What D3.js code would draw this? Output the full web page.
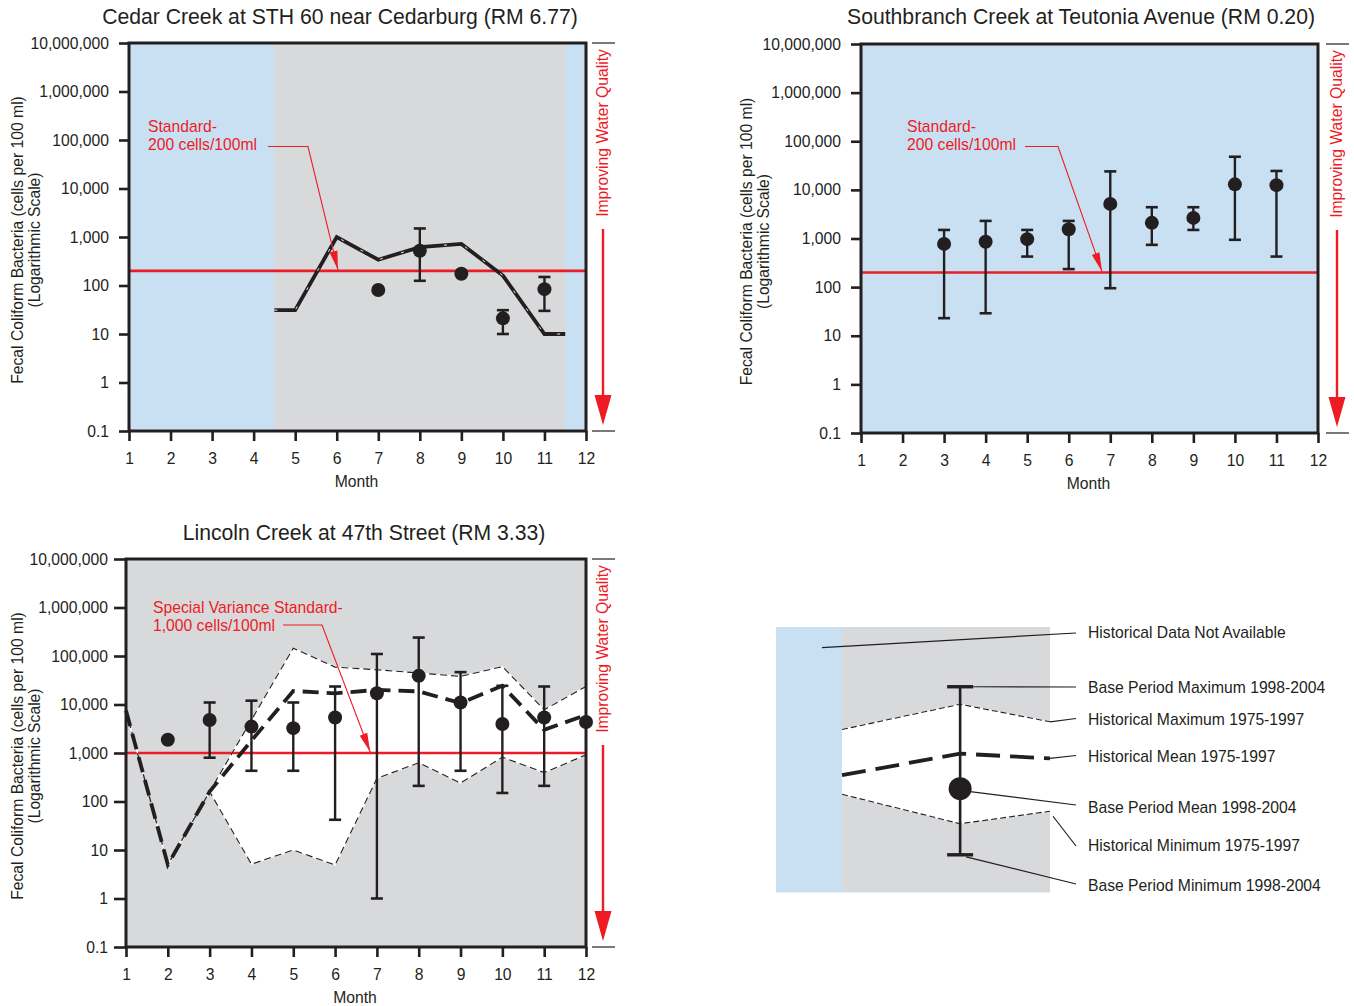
<!DOCTYPE html>
<html>
<head>
<meta charset="utf-8">
<script src="https://cdn.jsdelivr.net/npm/d3@7"></script>
<style>
  body { margin: 0; background: #ffffff; }
  svg { display: block; font-family: "Liberation Sans", Arial, Helvetica, sans-serif; }
</style>
</head>
<body>
<svg id="chart" width="1354" height="1006"></svg>
<script>
// ---------- shared axis values ----------
const months = [1, 2, 3, 4, 5, 6, 7, 8, 9, 10, 11, 12];
const yTickValues = [0.1, 1, 10, 100, 1000, 10000, 100000, 1000000, 10000000];

// ---------- Cedar Creek at STH 60 near Cedarburg ----------
const cedarHistMonths = [4.5, 5, 6, 7, 8, 9, 10, 11, 11.5];
const cedarHistMean   = [31, 31, 1000, 340, 620, 720, 160, 10, 10];
const cedarHistMax    = [31, 31, 1000, 340, 620, 720, 160, 10, 10];
const cedarHistMin    = [31, 31, 1000, 340, 620, 720, 160, 10, 10];
const cedarBaseMonths = [7, 8, 9, 10, 11];
const cedarBaseMean   = [81, 520, 175, 21, 84];
const cedarBaseMax    = [null, 1500, null, 31, 150];
const cedarBaseMin    = [null, 125, null, 10, 30];
const cedarHistBand   = [4.5, 11.5];
const cedarStandard   = 200;

// ---------- Southbranch Creek at Teutonia Avenue ----------
const southBaseMonths = [3, 4, 5, 6, 7, 8, 9, 10, 11];
const southBaseMean   = [775, 860, 970, 1550, 5150, 2100, 2650, 13000, 12500];
const southBaseMax    = [1500, 2300, 1500, 2300, 24000, 4400, 4400, 48000, 24500];
const southBaseMin    = [23, 29, 425, 235, 95, 740, 1500, 940, 425];
const southStandard   = 200;

// ---------- Lincoln Creek at 47th Street ----------
const lincolnHistMonths = [1, 2, 3, 4, 5, 6, 7, 8, 9, 10, 11, 12];
const lincolnHistMean   = [7500, 5, 160, 1800, 19000, 17000, 20000, 18600, 10700, 24300, 3000, 6100];
const lincolnHistMax    = [7500, 5, 160, 4800, 145000, 59000, 52000, 44600, 38000, 60500, 7800, 23500];
const lincolnHistMin    = [7500, 5, 160, 5.1, 10, 4.9, 300, 630, 240, 820, 395, 915];
const lincolnBaseMonths = [2, 3, 4, 5, 6, 7, 8, 9, 10, 11, 12];
const lincolnBaseMean   = [1870, 4800, 3500, 3250, 5400, 17000, 39000, 11000, 3950, 5400, 4350];
const lincolnBaseMax    = [null, 11000, 12000, 11000, 23500, 110000, 240000, 46500, 24300, 23500, null];
const lincolnBaseMin    = [null, 800, 430, 430, 42, 1, 210, 430, 150, 210, null];
const lincolnHistBand   = [1, 12];
const lincolnStandard   = 1000;

// ---------- key (schematic sample values) ----------
const keyRegionBreak = 0.241;
const keyX        = [0.241, 0.672, 1.0];
const keyHistMax  = [61.4, 70.9, 64.3];
const keyHistMean = [44.2, 52.3, 50.5];
const keyHistMin  = [37.0, 25.9, 30.6];
const keyBase     = { mean: 39.1, max: 77.5, min: 14.2 };
const keyLabels = [
  "Historical Data Not Available",
  "Base Period Maximum 1998-2004",
  "Historical Maximum 1975-1997",
  "Historical Mean 1975-1997",
  "Base Period Mean 1998-2004",
  "Historical Minimum 1975-1997",
  "Base Period Minimum 1998-2004"
];

// ---------- colours ----------
const BLUE = "#c9e0f3";
const GRAY = "#d8d9db";
const RED = "#ed1c24";
const INK = "#231f20";
const FS = 15.7;

const svg = d3.select("#chart");

const zip = (xs, ys) => xs.map((m, i) => ({ m, v: ys[i] }));

function redArrowHead(g, x1, y1, x2, y2, len, width) {
  const dx = x2 - x1, dy = y2 - y1;
  const L = Math.hypot(dx, dy);
  const ux = dx / L, uy = dy / L;
  const bx = x2 - ux * len, by = y2 - uy * len;
  const px = -uy * width / 2, py = ux * width / 2;
  g.append("path")
    .attr("d", `M${x2},${y2}L${bx + px},${by + py}L${bx - px},${by - py}Z`)
    .attr("fill", RED);
}

function drawPanel(p) {
  const g = svg.append("g");
  const x = d3.scaleLinear().domain([1, 12]).range([p.left, p.right]);
  const y = d3.scaleLog().domain([0.1, 1e7]).range([p.bottom, p.top]);

  // background shading
  g.append("rect").attr("x", p.left).attr("y", p.top)
    .attr("width", p.right - p.left).attr("height", p.bottom - p.top)
    .attr("fill", p.background);
  if (p.band) {
    g.append("rect").attr("x", x(p.band[0])).attr("y", p.top)
      .attr("width", x(p.band[1]) - x(p.band[0])).attr("height", p.bottom - p.top)
      .attr("fill", GRAY);
  }

  // historical range (white envelope)
  if (p.hist) {
    const maxPts = zip(p.hist.months, p.hist.max);
    const minPts = zip(p.hist.months, p.hist.min);
    const area = d3.area().x(d => x(d.m)).y0((d, i) => y(minPts[i].v)).y1(d => y(d.v));
    g.append("path").attr("d", area(maxPts)).attr("fill", "#ffffff");
  }

  // water quality standard
  g.append("line")
    .attr("x1", p.left).attr("x2", p.right)
    .attr("y1", y(p.standard)).attr("y2", y(p.standard))
    .attr("stroke", RED).attr("stroke-width", 2.6);

  // historical max / min / mean
  if (p.hist) {
    const line = d3.line().x(d => x(d.m)).y(d => y(d.v));
    if (p.hist.solid) {
      const mean = zip(p.hist.months, p.hist.mean);
      g.append("path").attr("d", line(mean)).attr("fill", "none")
        .attr("stroke", INK).attr("stroke-width", 3.8).attr("stroke-linejoin", "miter");
      g.append("path").attr("d", line(mean)).attr("fill", "none")
        .attr("stroke", "#ffffff").attr("stroke-width", 0.9)
        .attr("stroke-dasharray", "3,19");
    } else {
      [p.hist.max, p.hist.min].forEach(vals => {
        const pts = zip(p.hist.months, vals);
        g.append("path").attr("d", line(pts)).attr("fill", "none")
          .attr("stroke", "#ffffff").attr("stroke-width", 1.1);
        g.append("path").attr("d", line(pts)).attr("fill", "none")
          .attr("stroke", INK).attr("stroke-width", 1.1).attr("stroke-dasharray", "7,4");
      });
      const mean = zip(p.hist.months, p.hist.mean);
      g.append("path").attr("d", line(mean)).attr("fill", "none")
        .attr("stroke", INK).attr("stroke-width", 3.8).attr("stroke-dasharray", "16,8");
    }
  }

  // base period error bars and means
  const base = p.base.months.map((m, i) => ({
    m, mean: p.base.mean[i], max: p.base.max[i], min: p.base.min[i]
  }));
  const bars = base.filter(d => d.max != null && d.min != null);
  const cap = 6;
  g.selectAll(".stem").data(bars).join("line")
    .attr("x1", d => x(d.m)).attr("x2", d => x(d.m))
    .attr("y1", d => y(d.max)).attr("y2", d => y(d.min))
    .attr("stroke", INK).attr("stroke-width", 2.4);
  g.selectAll(".capTop").data(bars).join("line")
    .attr("x1", d => x(d.m) - cap).attr("x2", d => x(d.m) + cap)
    .attr("y1", d => y(d.max)).attr("y2", d => y(d.max))
    .attr("stroke", INK).attr("stroke-width", 2.6);
  g.selectAll(".capBot").data(bars).join("line")
    .attr("x1", d => x(d.m) - cap).attr("x2", d => x(d.m) + cap)
    .attr("y1", d => y(d.min)).attr("y2", d => y(d.min))
    .attr("stroke", INK).attr("stroke-width", 2.6);
  g.selectAll(".dot").data(base).join("circle")
    .attr("cx", d => x(d.m)).attr("cy", d => y(d.mean)).attr("r", 7)
    .attr("fill", INK);

  // standard annotation with leader arrow
  const a = p.note;
  const noteText = g.append("text").attr("x", a.x).attr("y", a.y)
    .attr("fill", RED).attr("font-size", FS);
  a.lines.forEach((t, i) => {
    noteText.append("tspan").attr("x", a.x).attr("dy", i === 0 ? 0 : 18).text(t);
  });
  const tipX = x(a.tipMonth), tipY = y(p.standard) - 1;
  g.append("polyline")
    .attr("points", `${a.lx1},${a.ly} ${a.lx2},${a.ly} ${tipX},${tipY}`)
    .attr("fill", "none").attr("stroke", RED).attr("stroke-width", 1.1);
  redArrowHead(g, a.lx2, a.ly, tipX, tipY, 19, 8);

  // frame
  g.append("rect").attr("x", p.left).attr("y", p.top)
    .attr("width", p.right - p.left).attr("height", p.bottom - p.top)
    .attr("fill", "none").attr("stroke", INK).attr("stroke-width", 3);

  // axes
  const fmtY = v => v < 1 ? String(v) : d3.format(",")(v);
  const yAxis = g.append("g").attr("transform", `translate(${p.left},0)`)
    .call(d3.axisLeft(y).tickValues(yTickValues).tickSize(p.tickLen)
      .tickPadding(p.tickPad).tickFormat(fmtY));
  const xAxis = g.append("g").attr("transform", `translate(0,${p.bottom})`)
    .call(d3.axisBottom(x).tickValues(months).tickSize(10)
      .tickPadding(12).tickFormat(d3.format("d")));
  [yAxis, xAxis].forEach(ax => {
    ax.select(".domain").remove();
    ax.selectAll(".tick line").attr("stroke", INK).attr("stroke-width", 2.6);
    ax.selectAll(".tick text").attr("fill", INK).attr("font-size", FS)
      .attr("font-family", "Liberation Sans, Arial, sans-serif");
  });

  // titles
  g.append("text").attr("x", p.titleX).attr("y", p.titleY)
    .attr("text-anchor", "middle").attr("font-size", 21.2).attr("fill", INK)
    .text(p.title);
  g.append("text").attr("x", (p.left + p.right) / 2 - 1).attr("y", p.bottom + 56)
    .attr("text-anchor", "middle").attr("font-size", FS).attr("fill", INK)
    .text("Month");
  const yMid = (p.top + p.bottom) / 2 + 3;
  g.append("text")
    .attr("transform", `translate(${p.yLabelX},${yMid}) rotate(-90)`)
    .attr("text-anchor", "middle").attr("font-size", FS).attr("fill", INK)
    .text("Fecal Coliform Bacteria (cells per 100 ml)");
  g.append("text")
    .attr("transform", `translate(${p.yLabelX + 17},${yMid}) rotate(-90)`)
    .attr("text-anchor", "middle").attr("font-size", FS).attr("fill", INK)
    .text("(Logarithmic Scale)");

  // improving water quality marker
  const mx = p.right + p.markerOffset;
  g.append("line").attr("x1", mx - 11).attr("x2", mx + 12)
    .attr("y1", p.top).attr("y2", p.top).attr("stroke", INK).attr("stroke-width", 1.2);
  g.append("line").attr("x1", mx - 11).attr("x2", mx + 12)
    .attr("y1", p.bottom).attr("y2", p.bottom).attr("stroke", INK).attr("stroke-width", 1.2);
  g.append("text")
    .attr("transform", `translate(${mx + 5},${p.top + 90}) rotate(-90)`)
    .attr("text-anchor", "middle").attr("font-size", FS).attr("fill", RED)
    .text("Improving Water Quality");
  g.append("line").attr("x1", mx).attr("x2", mx)
    .attr("y1", p.top + 186).attr("y2", p.bottom - 30)
    .attr("stroke", RED).attr("stroke-width", 2.4);
  redArrowHead(g, mx, p.top + 186, mx, p.bottom - 6, 30, 17);
}

drawPanel({
  title: "Cedar Creek at STH 60 near Cedarburg (RM 6.77)", titleX: 340, titleY: 24,
  left: 129, right: 586, top: 43, bottom: 431, tickLen: 10, tickPad: 10,
  yLabelX: 23, markerOffset: 17,
  background: BLUE, band: cedarHistBand, standard: cedarStandard,
  hist: { months: cedarHistMonths, mean: cedarHistMean, max: cedarHistMax, min: cedarHistMin, solid: true },
  base: { months: cedarBaseMonths, mean: cedarBaseMean, max: cedarBaseMax, min: cedarBaseMin },
  note: { lines: ["Standard-", "200 cells/100ml"], x: 148, y: 132, lx1: 268, lx2: 308, ly: 146.5, tipMonth: 6.03 }
});

drawPanel({
  title: "Southbranch Creek at Teutonia Avenue (RM 0.20)", titleX: 1081, titleY: 24,
  left: 861, right: 1318, top: 44, bottom: 433, tickLen: 10, tickPad: 10,
  yLabelX: 752, markerOffset: 19,
  background: BLUE, band: null, standard: southStandard,
  hist: null,
  base: { months: southBaseMonths, mean: southBaseMean, max: southBaseMax, min: southBaseMin },
  note: { lines: ["Standard-", "200 cells/100ml"], x: 907, y: 132, lx1: 1025, lx2: 1058, ly: 146.5, tipMonth: 6.8 }
});

drawPanel({
  title: "Lincoln Creek at 47th Street (RM 3.33)", titleX: 364, titleY: 540,
  left: 126, right: 586, top: 559, bottom: 947, tickLen: 12, tickPad: 6,
  yLabelX: 23, markerOffset: 17,
  background: GRAY, band: lincolnHistBand, standard: lincolnStandard,
  hist: { months: lincolnHistMonths, mean: lincolnHistMean, max: lincolnHistMax, min: lincolnHistMin, solid: false },
  base: { months: lincolnBaseMonths, mean: lincolnBaseMean, max: lincolnBaseMax, min: lincolnBaseMin },
  note: { lines: ["Special Variance Standard-", "1,000 cells/100ml"], x: 153, y: 612.5, lx1: 283, lx2: 322, ly: 625, tipMonth: 6.84 }
});

// ---------- key ----------
(function drawKey() {
  const g = svg.append("g");
  const kx = d3.scaleLinear().domain([0, 1]).range([776, 1050]);
  const ky = d3.scaleLinear().domain([0, 100]).range([892.5, 627]);

  g.append("rect").attr("x", kx(0)).attr("y", ky(100))
    .attr("width", kx(keyRegionBreak) - kx(0)).attr("height", ky(0) - ky(100)).attr("fill", BLUE);
  g.append("rect").attr("x", kx(keyRegionBreak)).attr("y", ky(100))
    .attr("width", kx(1) - kx(keyRegionBreak)).attr("height", ky(0) - ky(100)).attr("fill", GRAY);

  const maxPts = keyX.map((v, i) => ({ x: v, y: keyHistMax[i] }));
  const minPts = keyX.map((v, i) => ({ x: v, y: keyHistMin[i] }));
  const meanPts = keyX.map((v, i) => ({ x: v, y: keyHistMean[i] }));
  g.append("path")
    .attr("d", d3.area().x(d => kx(d.x)).y0((d, i) => ky(minPts[i].y)).y1(d => ky(d.y))(maxPts))
    .attr("fill", "#ffffff");
  const line = d3.line().x(d => kx(d.x)).y(d => ky(d.y));
  [maxPts, minPts].forEach(pts => {
    g.append("path").attr("d", line(pts)).attr("fill", "none")
      .attr("stroke", "#ffffff").attr("stroke-width", 1.1);
    g.append("path").attr("d", line(pts)).attr("fill", "none")
      .attr("stroke", INK).attr("stroke-width", 1.1).attr("stroke-dasharray", "6,3");
  });
  g.append("path").attr("d", line(meanPts)).attr("fill", "none")
    .attr("stroke", INK).attr("stroke-width", 3.8).attr("stroke-dasharray", "24,10");

  const bx = kx(keyX[1]);
  g.append("line").attr("x1", bx).attr("x2", bx)
    .attr("y1", ky(keyBase.max)).attr("y2", ky(keyBase.min))
    .attr("stroke", INK).attr("stroke-width", 2.6);
  [keyBase.max, keyBase.min].forEach(v => {
    g.append("line").attr("x1", bx - 13).attr("x2", bx + 13)
      .attr("y1", ky(v)).attr("y2", ky(v)).attr("stroke", INK).attr("stroke-width", 3.4);
  });
  g.append("circle").attr("cx", bx).attr("cy", ky(keyBase.mean)).attr("r", 11.5).attr("fill", INK);

  // leader lines from each feature to its label
  const labelX = 1088;
  const baselines = [638, 692.5, 724.5, 761.5, 813, 851, 891];
  const starts = [
    [822, 647.7],
    [bx + 13, ky(keyBase.max)],
    [kx(keyX[2]), ky(keyHistMax[2])],
    [kx(keyX[2]), ky(keyHistMean[2])],
    [bx + 10, ky(keyBase.mean) + 3],
    [kx(keyX[2]) + 3, ky(keyHistMin[2]) + 5],
    [bx + 6, ky(keyBase.min) + 2]
  ];
  const ends = [633, 687, 718.5, 755.5, 805, 846, 884];
  keyLabels.forEach((t, i) => {
    g.append("line").attr("x1", starts[i][0]).attr("y1", starts[i][1])
      .attr("x2", labelX - 12).attr("y2", ends[i])
      .attr("stroke", INK).attr("stroke-width", 1.2);
    g.append("text").attr("x", labelX).attr("y", baselines[i])
      .attr("font-size", FS).attr("fill", INK).text(t);
  });
})();
</script>
</body>
</html>
